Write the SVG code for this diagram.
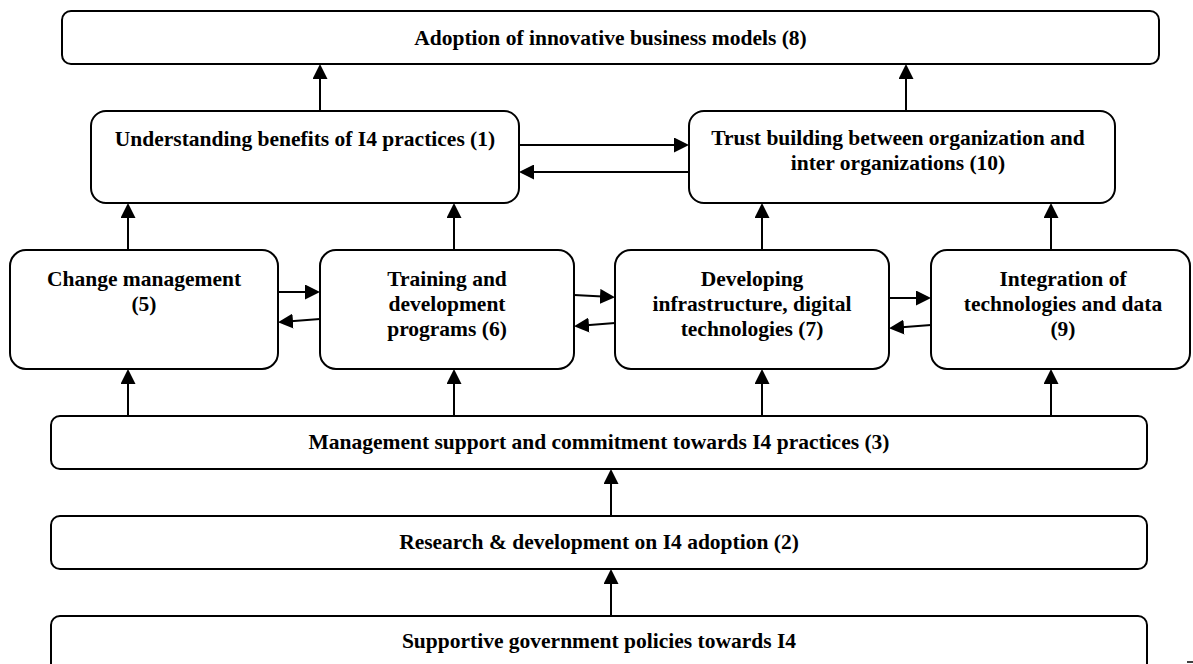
<svg xmlns="http://www.w3.org/2000/svg" width="1193" height="664" viewBox="0 0 1193 664">
  <style>
    .box { fill: #fff; stroke: #000; stroke-width: 2; }
    .lbl { font-family: "Liberation Serif", "Times New Roman", serif; font-weight: bold; font-size: 21.5px; text-anchor: middle; fill: #000; }
    .edge { fill: none; stroke: #000; stroke-width: 2; marker-end: url(#ah); }
  </style>
  <defs>
    <marker id="ah" markerUnits="userSpaceOnUse" viewBox="0 0 15 15" markerWidth="15" markerHeight="15" refX="12" refY="7.5" orient="auto">
      <path d="M0,0 L15,7.5 L0,15 Z" fill="#000"/>
    </marker>
  </defs>
  <rect width="1193" height="664" fill="#fff"/>

  <g id="connectors">
    <!-- upward links into the top row -->
    <path class="edge" d="M320,111 V67"/>
    <path class="edge" d="M906,111 V67"/>
    <!-- middle row up to second row -->
    <path class="edge" d="M128,250 V206"/>
    <path class="edge" d="M454,250 V206"/>
    <path class="edge" d="M762,250 V206"/>
    <path class="edge" d="M1051,250 V206"/>
    <!-- management support up to middle row -->
    <path class="edge" d="M128,416 V372"/>
    <path class="edge" d="M454,416 V372"/>
    <path class="edge" d="M762,416 V372"/>
    <path class="edge" d="M1051,416 V372"/>
    <!-- bottom chain -->
    <path class="edge" d="M611,516 V472"/>
    <path class="edge" d="M611,616 V572"/>
    <!-- two-way links in the second row -->
    <path class="edge" d="M519,145 H686"/>
    <path class="edge" d="M689,172 H522"/>
    <!-- two-way links in the middle row -->
    <path class="edge" d="M278,292 H317"/>
    <path class="edge" d="M320,319 L281,322"/>
    <path class="edge" d="M574,295 L612,297"/>
    <path class="edge" d="M615,323 L577,326"/>
    <path class="edge" d="M889,298 H928"/>
    <path class="edge" d="M931,325 L892,328"/>
  </g>

  <g id="n8">
    <rect class="box" x="62" y="11" width="1097" height="53" rx="9"/>
    <text class="lbl" x="610.5" y="45">Adoption of innovative business models (8)</text>
  </g>
  <g id="n1">
    <rect class="box" x="91" y="111" width="428" height="92" rx="15"/>
    <text class="lbl" x="305" y="146">Understanding benefits of I4 practices (1)</text>
  </g>
  <g id="n10">
    <rect class="box" x="689" y="111" width="426" height="92" rx="15"/>
    <text class="lbl" x="898" y="145">Trust building between organization and</text>
    <text class="lbl" x="898" y="170">inter organizations (10)</text>
  </g>
  <g id="n5">
    <rect class="box" x="10" y="250" width="268" height="119" rx="16"/>
    <text class="lbl" x="144" y="286">Change management</text>
    <text class="lbl" x="144" y="311">(5)</text>
  </g>
  <g id="n6">
    <rect class="box" x="320" y="250" width="254" height="119" rx="16"/>
    <text class="lbl" x="447" y="286">Training and</text>
    <text class="lbl" x="447" y="311">development</text>
    <text class="lbl" x="447" y="336">programs (6)</text>
  </g>
  <g id="n7">
    <rect class="box" x="615" y="250" width="274" height="119" rx="16"/>
    <text class="lbl" x="752" y="286">Developing</text>
    <text class="lbl" x="752" y="311">infrastructure, digital</text>
    <text class="lbl" x="752" y="336">technologies (7)</text>
  </g>
  <g id="n9">
    <rect class="box" x="931" y="250" width="259" height="119" rx="16"/>
    <text class="lbl" x="1063" y="286">Integration of</text>
    <text class="lbl" x="1063" y="311">technologies and data</text>
    <text class="lbl" x="1063" y="336">(9)</text>
  </g>
  <g id="n3">
    <rect class="box" x="51" y="416" width="1096" height="53" rx="9"/>
    <text class="lbl" x="599" y="449">Management support and commitment towards I4 practices (3)</text>
  </g>
  <g id="n2">
    <rect class="box" x="51" y="516" width="1096" height="53" rx="9"/>
    <text class="lbl" x="599" y="549">Research &amp; development on I4 adoption (2)</text>
  </g>
  <g id="n4">
    <rect class="box" x="51" y="616" width="1096" height="60" rx="9"/>
    <text class="lbl" x="599" y="648">Supportive government policies towards I4</text>
  </g>

  <!-- small stray mark at the lower right corner -->
  <path d="M1187,662 H1193" stroke="#000" stroke-width="1.5"/>
</svg>
